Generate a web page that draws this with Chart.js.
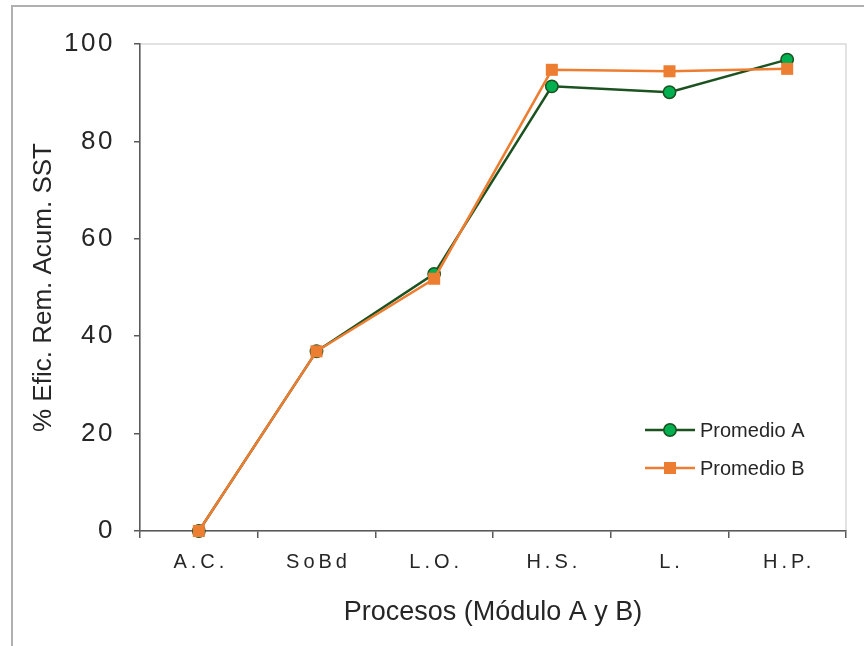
<!DOCTYPE html>
<html>
<head>
<meta charset="utf-8">
<script src="https://cdn.jsdelivr.net/npm/chart.js@4/dist/chart.umd.min.js"></script>
<style>
  html, body { margin: 0; padding: 0; background: #ffffff; }
  #wrap { width: 864px; height: 646px; }
</style>
</head>
<body>
<div id="wrap"><canvas id="chart" width="864" height="646"></canvas></div>
<script>
// Processes along the treatment train
const procesos = ['A.C.', 'SoBd', 'L.O.', 'H.S.', 'L.', 'H.P.'];
// Cumulative TSS removal efficiency (%)
const promedioA = [0, 36.9, 52.8, 91.3, 90.1, 96.8];
const promedioB = [0, 36.9, 51.8, 94.7, 94.4, 94.9];
// Y axis range and step
const yMin = 0, yMax = 100, yStep = 20;

const FONT = "'Liberation Sans', Arial, sans-serif";
const TEXT = '#262626';
const AXIS = '#595959';

// Gray frame around the figure and light border around the plot area
const framePlugin = {
  id: 'frame',
  beforeDraw(chart) {
    const { ctx, chartArea: a } = chart;
    ctx.save();
    ctx.strokeStyle = '#b0b0b0';
    ctx.lineWidth = 2;
    ctx.beginPath();
    ctx.moveTo(12, chart.height);
    ctx.lineTo(12, 6);
    ctx.lineTo(chart.width, 6);
    ctx.stroke();
    ctx.strokeStyle = '#d9d9d9';
    ctx.lineWidth = 1.5;
    ctx.strokeRect(a.left, a.top, a.right - a.left, a.bottom - a.top);
    ctx.restore();
  }
};

// Spaced-out tick labels on both axes
const spacingPlugin = {
  id: 'tickSpacing',
  beforeDraw(chart) {
    const spec = { x: { sp: 4, dx: 2, dy: 3 }, y: { sp: 2.5, dx: 0, dy: 0 } };
    Object.keys(spec).forEach(id => {
      const s = chart.scales[id];
      if (!s || s._spaced) return;
      const orig = s.drawLabels;
      s.drawLabels = function (area) {
        const c = this.ctx;
        c.save();
        c.letterSpacing = spec[id].sp + 'px';
        c.translate(spec[id].dx, spec[id].dy);
        orig.call(this, area);
        c.restore();
      };
      s._spaced = true;
    });
  }
};

// Legend drawn inside the plot area, lower right
const insideLegend = {
  id: 'insideLegend',
  afterDraw(chart, args, opts) {
    const { ctx, chartArea: a } = chart;
    const x0 = a.right - opts.right;
    let y = a.bottom - opts.bottom;
    const items = chart.data.datasets.slice().sort((p, q) => q.order - p.order);
    items.forEach(ds => {
      ctx.save();
      ctx.strokeStyle = ds.borderColor;
      ctx.lineWidth = ds.borderWidth;
      ctx.beginPath();
      ctx.moveTo(x0, y);
      ctx.lineTo(x0 + opts.lineLength, y);
      ctx.stroke();
      ctx.fillStyle = ds.pointBackgroundColor;
      ctx.strokeStyle = ds.pointBorderColor;
      ctx.lineWidth = ds.pointBorderWidth;
      Chart.helpers.drawPoint(ctx, {
        pointStyle: ds.pointStyle,
        radius: ds.pointRadius,
        borderWidth: ds.pointBorderWidth,
        rotation: 0
      }, x0 + opts.lineLength / 2, y);
      ctx.fillStyle = TEXT;
      ctx.font = opts.fontSize + 'px ' + FONT;
      ctx.textBaseline = 'middle';
      ctx.textAlign = 'left';
      ctx.fillText(ds.label, x0 + opts.lineLength + 5, y + 1);
      ctx.restore();
      y += opts.rowGap;
    });
  }
};

new Chart(document.getElementById('chart'), {
  type: 'line',
  data: {
    labels: procesos,
    datasets: [
      {
        label: 'Promedio A',
        data: promedioA,
        order: 1,
        borderColor: '#1b5220',
        borderWidth: 2.5,
        pointStyle: 'circle',
        pointRadius: 6.2,
        pointHoverRadius: 6.2,
        pointBackgroundColor: '#00b050',
        pointBorderColor: '#1b5220',
        pointBorderWidth: 1.5,
        tension: 0,
        clip: false
      },
      {
        label: 'Promedio B',
        data: promedioB,
        order: 0,
        borderColor: '#ed7d31',
        borderWidth: 2.5,
        pointStyle: 'rect',
        pointRadius: 8.5,
        pointHoverRadius: 8.5,
        pointBackgroundColor: '#ed7d31',
        pointBorderColor: '#ed7d31',
        pointBorderWidth: 0,
        tension: 0,
        clip: false
      }
    ]
  },
  options: {
    responsive: false,
    animation: false,
    events: [],
    layout: { padding: { top: 44, right: 18, bottom: 0, left: 0 } },
    plugins: {
      legend: { display: false },
      tooltip: { enabled: false },
      insideLegend: { right: 201, bottom: 101, lineLength: 50, rowGap: 38, fontSize: 20 }
    },
    scales: {
      x: {
        type: 'category',
        offset: true,
        grid: {
          display: true, drawOnChartArea: false, drawTicks: true,
          tickLength: 7, color: AXIS, offset: true, lineWidth: 1.5
        },
        border: { display: true, color: AXIS, width: 1.5 },
        ticks: {
          font: { family: FONT, size: 20 }, color: TEXT,
          padding: 9, maxRotation: 0, autoSkip: false
        },
        title: {
          display: true, text: 'Procesos (Módulo A y B)',
          font: { family: FONT, size: 27 }, color: TEXT,
          padding: { top: 0, bottom: 17 }
        },
        afterFit(s) { s.height = 115; }
      },
      y: {
        min: yMin, max: yMax,
        grid: {
          display: true, drawOnChartArea: false, drawTicks: true,
          tickLength: 6, color: AXIS, lineWidth: 1.5
        },
        border: { display: true, color: AXIS, width: 1.5 },
        ticks: {
          stepSize: yStep,
          font: { family: FONT, size: 26 }, color: TEXT, padding: 19
        },
        title: {
          display: true, text: '% Efic. Rem. Acum. SST',
          font: { family: FONT, size: 26 }, color: TEXT,
          padding: { top: 28, bottom: 0 }
        },
        afterFit(s) { s.width = 140; }
      }
    }
  },
  plugins: [framePlugin, spacingPlugin, insideLegend]
});
</script>
</body>
</html>
